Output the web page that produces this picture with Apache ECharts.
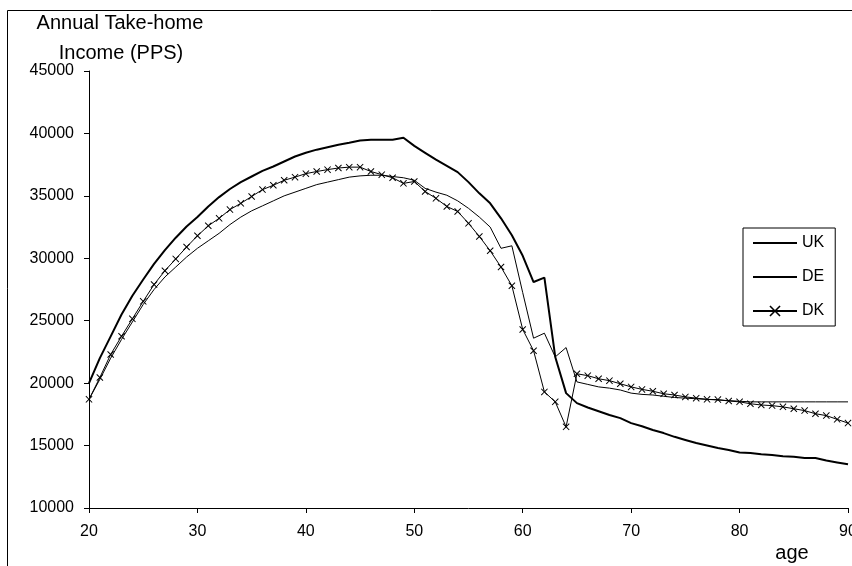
<!DOCTYPE html>
<html><head><meta charset="utf-8">
<script src="https://cdn.jsdelivr.net/npm/echarts@6/dist/echarts.min.js"></script>
<style>html,body{margin:0;padding:0;background:#fff;overflow:hidden}#c{width:852px;height:566px}</style>
</head><body><div id="c"></div>
<script>
const ages = [20,21,22,23,24,25,26,27,28,29,30,31,32,33,34,35,36,37,38,39,40,41,42,43,44,45,46,47,48,49,50,51,52,53,54,55,56,57,58,59,60,61,62,63,64,65,66,67,68,69,70,71,72,73,74,75,76,77,78,79,80,81,82,83,84,85,86,87,88,89,90];
const ukValues = [20000,22000,23750,25500,27000,28300,29550,30650,31650,32550,33300,34150,34900,35550,36100,36550,37000,37350,37750,38150,38450,38700,38900,39100,39250,39430,39500,39500,39500,39650,39000,38450,37900,37400,36900,36100,35200,34400,33200,31850,30200,28100,28450,22100,19200,18400,18050,17750,17450,17200,16800,16550,16250,16000,15700,15450,15200,15000,14800,14650,14450,14400,14300,14250,14150,14100,14000,14000,13800,13650,13500];
const deValues = [18700,20300,22000,23500,24900,26300,27500,28500,29300,30100,30800,31400,32000,32700,33300,33800,34200,34600,35000,35300,35600,35900,36100,36300,36500,36600,36650,36650,36550,36450,36250,35600,35300,35050,34600,34000,33300,32500,30800,31000,27250,23600,24000,22100,22850,20100,19900,19700,19600,19450,19200,19100,19050,18950,18850,18800,18750,18700,18650,18600,18550,18500,18500,18500,18500,18500,18500,18500,18500,18500,18500];
const dkValues = [18700,20450,22300,23750,25150,26550,27900,29000,29950,30900,31800,32600,33200,33900,34400,34950,35500,35850,36250,36500,36780,36950,37100,37230,37300,37300,36950,36700,36450,36000,36150,35350,34800,34150,33750,32800,31750,30600,29300,27800,24300,22600,19300,18500,16500,20750,20600,20350,20200,19950,19700,19500,19350,19150,19050,18900,18800,18700,18680,18570,18500,18350,18250,18200,18100,17950,17800,17550,17400,17100,16800];
const seriesNames = ['UK','DE','DK'];
const yTitleLines = ['Annual Take-home','Income (PPS)'];
const xName = 'age';

const pair = arr => ages.map((a,i)=>[a,arr[i]]);
const FONT = '"Liberation Sans", Arial, sans-serif';
const crossPath = 'path://M0,1L1,0L5,4L9,0L10,1L6,5L10,9L9,10L5,6L1,10L0,9L4,5Z';

const chart = echarts.init(document.getElementById('c'), null, {renderer:'canvas'});
chart.setOption({
  animation:false,
  backgroundColor:'#fff',
  textStyle:{fontFamily:FONT,color:'#000'},
  grid:{left:89,right:4,top:71,bottom:58,containLabel:false,outerBoundsMode:'none'},
  xAxis:{type:'value',min:20,max:90,interval:10,
    axisLine:{lineStyle:{color:'#000',width:1}},
    axisTick:{show:true,length:5,lineStyle:{color:'#000'}},
    axisLabel:{fontSize:16,color:'#000',fontFamily:FONT,margin:16,hideOverlap:false},
    splitLine:{show:false}},
  yAxis:{type:'value',min:10000,max:45000,interval:5000,
    axisLine:{show:true,lineStyle:{color:'#000',width:1}},
    axisTick:{show:true,length:5,lineStyle:{color:'#000'}},
    axisLabel:{fontSize:16,color:'#000',fontFamily:FONT,margin:15,formatter:v=>String(v)},
    splitLine:{show:false}},
  legend:{orient:'vertical',left:743,top:228,
    data:[{name:'UK',itemStyle:{opacity:0}},{name:'DE',itemStyle:{opacity:0}},{name:'DK'}],
    itemWidth:44,itemHeight:14,itemGap:18,
    padding:[7,11,7,9],
    borderColor:'#000',borderWidth:1,
    textStyle:{fontSize:16,color:'#000',fontFamily:FONT,lineHeight:16},
    selectedMode:false},
  graphic:[
    {type:'rect',shape:{x:7.5,y:10.5,width:900,height:700},style:{fill:null,stroke:'#000',lineWidth:1},silent:true,z:-1},
    {type:'text',x:120,y:23,style:{text:yTitleLines[0],font:'20px '+FONT,fill:'#000',textAlign:'center',textVerticalAlign:'middle'}},
    {type:'text',x:121,y:53,style:{text:yTitleLines[1],font:'20px '+FONT,fill:'#000',textAlign:'center',textVerticalAlign:'middle'}},
    {type:'text',x:792,y:553,style:{text:xName,font:'20px '+FONT,fill:'#000',textAlign:'center',textVerticalAlign:'middle'}}
  ],
  series:[
    {name:seriesNames[0],type:'line',data:pair(ukValues),showSymbol:false,symbol:'circle',
      lineStyle:{color:'#000',width:2},itemStyle:{color:'#000'},emphasis:{disabled:true}},
    {name:seriesNames[1],type:'line',data:pair(deValues),showSymbol:false,symbol:'circle',
      lineStyle:{color:'#000',width:1},itemStyle:{color:'#000'},emphasis:{disabled:true}},
    {name:seriesNames[2],type:'line',data:pair(dkValues),symbol:crossPath,symbolSize:7,showSymbol:true,
      lineStyle:{color:'#000',width:1},itemStyle:{color:'#000'},emphasis:{disabled:true}}
  ]
});
</script></body></html>
